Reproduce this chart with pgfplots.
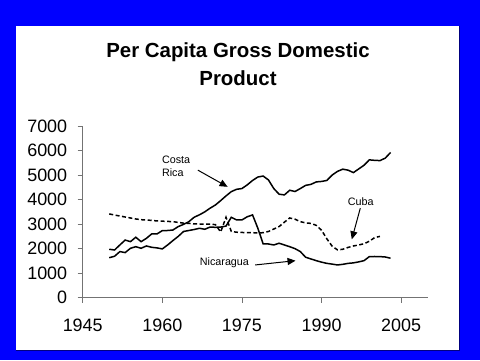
\documentclass[border=0pt]{standalone}
\usepackage{fontspec}
\setmainfont{Liberation Sans}
\usepackage{pgfplots}
\usepackage{pgfplotstable}
\pgfplotsset{compat=1.18}
\usetikzlibrary{arrows.meta}
\pgfplotstableread{
year gdp
1950 1975
1951 1945
1952 2150
1953 2350
1954 2285
1955 2465
1956 2285
1957 2420
1958 2600
1959 2600
1960 2735
1961 2740
1962 2760
1963 2900
1964 2990
1965 3100
1966 3280
1967 3380
1968 3500
1969 3650
1970 3780
1971 3960
1972 4150
1973 4325
1974 4420
1975 4450
1976 4600
1977 4780
1978 4920
1979 4960
1980 4800
1981 4450
1982 4220
1983 4190
1984 4380
1985 4330
1986 4450
1987 4580
1988 4620
1989 4720
1990 4740
1991 4780
1992 5000
1993 5150
1994 5240
1995 5200
1996 5100
1997 5250
1998 5400
1999 5620
2000 5600
2001 5590
2002 5690
2003 5920
}\costarica
\pgfplotstableread{
year gdp
1950 1630
1951 1690
1952 1880
1953 1840
1954 2015
1955 2080
1956 2015
1957 2110
1958 2055
1959 2030
1960 1990
1961 2150
1962 2330
1963 2500
1964 2700
1965 2740
1966 2780
1967 2830
1968 2790
1969 2880
1970 2870
1971 2880
1972 2920
1973 3280
1974 3170
1975 3170
1976 3300
1977 3375
1978 2830
1979 2190
1980 2190
1981 2150
1982 2220
1983 2150
1984 2080
1985 2000
1986 1880
1987 1650
1988 1580
1989 1510
1990 1450
1991 1400
1992 1370
1993 1335
1994 1360
1995 1400
1996 1420
1997 1460
1998 1510
1999 1675
2000 1680
2001 1675
2002 1660
2003 1610
}\nicaragua
\pgfplotstableread{
year gdp
1950 3415
1951 3370
1952 3330
1953 3290
1954 3250
1955 3210
1956 3180
1957 3170
1958 3150
1959 3130
1960 3120
1961 3110
1962 3100
1963 3070
1964 3040
1965 3030
1966 3010
1967 3005
1968 3000
1969 2995
1970 2980
1971 2680
1972 3280
1973 2700
1974 2670
1975 2660
1976 2650
1977 2650
1978 2640
1979 2650
1980 2700
1981 2800
1982 2900
1983 3080
1984 3250
1985 3200
1986 3100
1987 3050
1988 3030
1989 2950
1990 2750
1991 2400
1992 2100
1993 1950
1994 1975
1995 2050
1996 2110
1997 2150
1998 2200
1999 2300
2000 2450
2001 2500
}\cuba
\begin{document}
\begin{tikzpicture}[x=1bp,y=1bp]
\fill[blue] (0,0) rectangle (480,360);
\fill[white] (16,10) rectangle (459,334);
\draw[blue!50!black, line width=0.8bp] (16,10) -- (459,10) -- (459,334);
\node[anchor=base, font=\fontsize{20.5}{24}\selectfont\bfseries] at (238,302.7) {Per Capita Gross Domestic};
\node[anchor=base, font=\fontsize{20.5}{24}\selectfont\bfseries] at (238,275) {Product};
\begin{axis}[
  at={(82.7bp,62.3bp)}, anchor=south west,
  scale only axis, width=345bp, height=171.7bp,
  xmin=1945, xmax=2010, ymin=0, ymax=7000,
  axis lines*=left,
  axis line style={black!55, line width=0.8bp},
  xtick={1945,1960,1975,1990,2005},
  ytick={0,1000,2000,3000,4000,5000,6000,7000},
  tick align=outside, major tick length=5bp,
  tick style={black!55, line width=0.8bp},
  /pgf/number format/assume math mode=true,
  /pgf/number format/set thousands separator={},
  ticklabel style={font=\fontsize{18}{20}\selectfont},
  xticklabel style={yshift=-13bp},
  yticklabel style={xshift=-7bp},
  clip=false,
]
\addplot[black, line width=1.5bp, no markers] table[x=year,y=gdp] {\costarica};
\addplot[black, line width=1.5bp, no markers] table[x=year,y=gdp] {\nicaragua};
\addplot[black, line width=1.5bp, no markers, dash pattern=on 4bp off 2.5bp] table[x=year,y=gdp] {\cuba};
\node[align=left, font=\fontsize{10.8}{13.3}\selectfont] at (axis cs:1962.6,5345) {Costa\\Rica};
\node[font=\fontsize{10.8}{13}\selectfont] at (axis cs:1997.4,3905) {Cuba};
\node[font=\fontsize{10.8}{13}\selectfont] at (axis cs:1971.7,1416) {Nicaragua};
\draw[line width=1bp, -{Triangle[length=8bp,width=7bp]}] (axis cs:1966.7,5200) -- (axis cs:1972.3,4520);
\draw[line width=1bp, -{Triangle[length=8bp,width=7bp]}] (axis cs:1997.3,3650) -- (axis cs:1995.7,2380);
\draw[line width=1bp, -{Triangle[length=8bp,width=7bp]}] (axis cs:1977.5,1335) -- (axis cs:1985.1,1510);
\end{axis}
\end{tikzpicture}
\end{document}
